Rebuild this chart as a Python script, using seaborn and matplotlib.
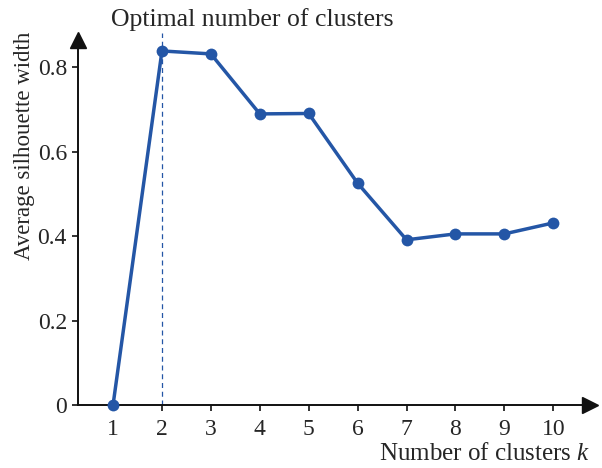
import pandas as pd
import matplotlib.pyplot as plt
import seaborn as sns

# data
k_values = [1, 2, 3, 4, 5, 6, 7, 8, 9, 10]
silhouette = [0.0, 0.838, 0.831, 0.689, 0.690, 0.525, 0.391, 0.405, 0.405, 0.431]
optimal_k = 2
y_ticks = [0, 0.2, 0.4, 0.6, 0.8]
y_tick_labels = ['0', '0.2', '0.4', '0.6', '0.8']

df = pd.DataFrame({'k': k_values, 'width': silhouette})

sns.set_style("white")
plt.rcParams['font.family'] = ['Liberation Serif', 'DejaVu Serif']
plt.rcParams['mathtext.fontset'] = 'custom'
plt.rcParams['mathtext.it'] = 'Liberation Serif:italic'

blue = '#2456a6'

fig = plt.figure(figsize=(6.02, 4.68), dpi=100)
ax = fig.add_axes([0.1296, 0.1346, 0.8504, 0.78])

sns.lineplot(data=df, x='k', y='width', ax=ax, color=blue, linewidth=2.5,
             marker='o', markersize=8.5, markeredgewidth=0, clip_on=False, zorder=5)

# dashed line at the optimal number of clusters
ax.axvline(optimal_k, ymin=0, ymax=1.02, color=blue, linestyle=(0, (4, 3)),
           linewidth=0.9, clip_on=False)
ax.text(optimal_k + 1.85, 0.885, 'Optimal number of clusters', ha='center',
        va='bottom', fontsize=18.5, clip_on=False)

ax.set_xlim(0.284, 10.75)
ax.set_ylim(0, 0.864)
ax.set_xticks(k_values)
ax.set_yticks(y_ticks)
ax.set_yticklabels(y_tick_labels)

for side in ['top', 'right']:
    ax.spines[side].set_visible(False)
for side in ['left', 'bottom']:
    ax.spines[side].set_color('#111111')
    ax.spines[side].set_linewidth(1.4)

# arrow heads on the axes
ax.plot(1, 0, '>', color='#111111', markersize=11, transform=ax.transAxes, clip_on=False)
ax.plot(0, 1, '^', color='#111111', markersize=11, transform=ax.transAxes, clip_on=False)

ax.tick_params(axis='both', direction='out', length=4, width=1.2, color='#111111',
               labelsize=17, pad=4, bottom=True, left=True)
ax.tick_params(axis='x', pad=6)

ax.set_xlabel('Number of clusters $k$', fontsize=18, loc='right', labelpad=2)
ax.set_ylabel('Average silhouette width', fontsize=16.5)
ax.yaxis.set_label_coords(-0.084, 0.71)

plt.savefig('out.png', dpi=100)
